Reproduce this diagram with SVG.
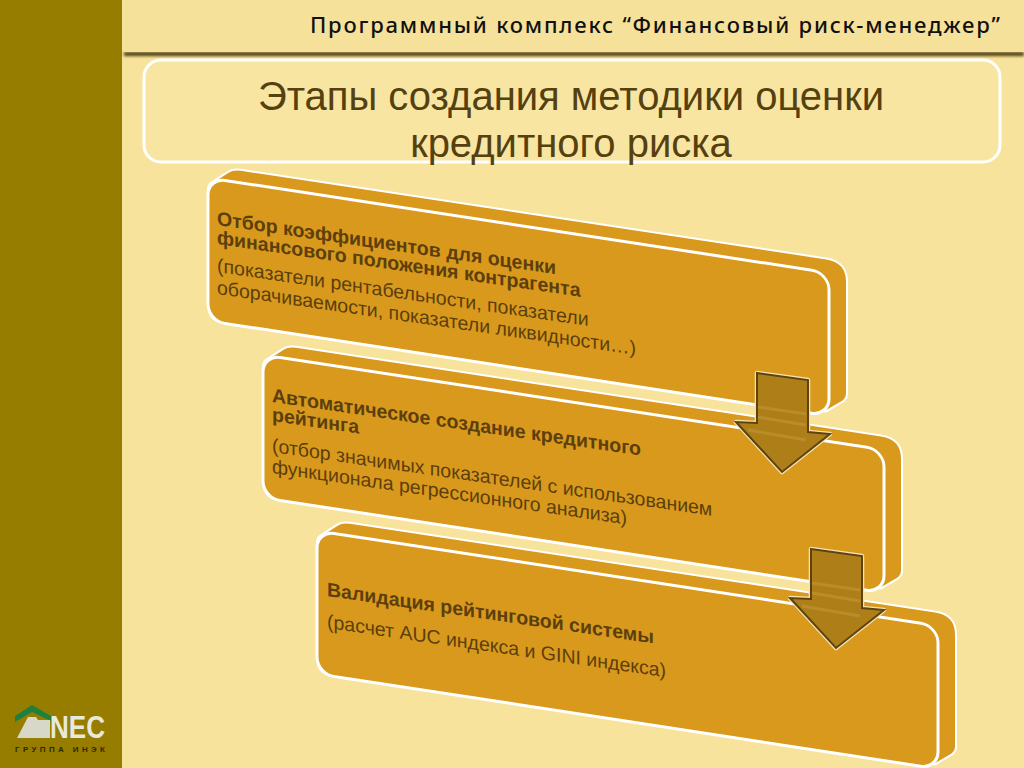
<svg xmlns="http://www.w3.org/2000/svg" width="1024" height="768" viewBox="0 0 1024 768">
<defs>
<style>
.back{fill:#d9991c;stroke:#fff;stroke-width:2}
.front{fill:#d9991c;stroke:#fff;stroke-width:3}
.t{font-family:"Liberation Sans",Arial,sans-serif;font-size:19.5px;fill:#5c3f0c}
.b{font-weight:bold}
.arrow{fill:#ae7f18;stroke:#5c4310;stroke-width:2}
.halo{fill:none;stroke:#f5e2b0;stroke-width:4.5;stroke-linejoin:round}
.streak{fill:none;stroke:#d0a850;stroke-width:3;opacity:.35}
</style>
<g id="stage">
<g transform="matrix(1,.153,0,1,0,0)">
<path class="back" d="M208,158 Q208,152 213,149 L228,137 Q233,133 241,133 L826,132 Q847,132 847,152 L847,264 Q847,270 841,274 L826,285 L224,289 Q208,289 208,272 Z"/>
<rect class="front" x="208" y="146" width="621" height="143" rx="17" ry="17"/>
</g>
</g>
<filter id="sh" x="-5%" y="-50%" width="110%" height="250%"><feGaussianBlur stdDeviation="1.6"/></filter>
</defs>
<rect width="1024" height="768" fill="#f8e39c"/>
<rect id="sidebar" width="122" height="768" fill="#967d00"/>
<g id="header">
<rect x="124" y="52" width="900" height="4" fill="#4a3a10" filter="url(#sh)"/>
<rect x="124" y="0" width="900" height="52" fill="#f6e19a"/>
<text x="310" y="33" font-family="'Noto Sans','Open Sans',sans-serif" font-size="22" font-weight="500" fill="#111" textLength="690" lengthAdjust="spacing">Программный комплекс “Финансовый риск-менеджер”</text>
</g>
<g id="title">
<rect x="144" y="60" width="856" height="102" rx="17" fill="#f8e5a2" stroke="#fff" stroke-width="3"/>
<text x="571" y="110" text-anchor="middle" font-family="'Liberation Sans',Arial,sans-serif" font-size="40" fill="#55400f">Этапы создания методики оценки</text>
<text x="571" y="157" text-anchor="middle" font-family="'Liberation Sans',Arial,sans-serif" font-size="40" fill="#55400f">кредитного риска</text>
</g>
<g id="node-1">
<use href="#stage"/>
<text class="t b" transform="matrix(1,.145,0,1,217,225)"><tspan>Отбор коэффициентов для оценки</tspan><tspan x="0" dy="19">финансового положения контрагента</tspan></text>
<text class="t" transform="matrix(1,.145,0,1,217,272)"><tspan>(показатели рентабельности, показатели</tspan><tspan x="0" dy="22">оборачиваемости, показатели ликвидности…)</tspan></text>
</g>
<g id="node-2">
<use href="#stage" transform="translate(55,177)"/>
<text class="t b" transform="matrix(1,.145,0,1,272,402)"><tspan>Автоматическое создание кредитного</tspan><tspan x="0" dy="19">рейтинга</tspan></text>
<text class="t" transform="matrix(1,.145,0,1,272,452)"><tspan>(отбор значимых показателей с использованием</tspan><tspan x="0" dy="21">функционала регрессионного анализа)</tspan></text>
</g>
<g id="node-3">
<use href="#stage" transform="translate(109,353)"/>
<text class="t b" transform="matrix(1,.145,0,1,327,596)">Валидация рейтинговой системы</text>
<text class="t" transform="matrix(1,.145,0,1,327,628)">(расчет AUC индекса и GINI индекса)</text>
</g>
<g id="connectors">
<g id="arrow-1">
<path class="halo" d="M757,373 L808,380 L808,432 L830,434 L782,472 L736,422 L757,423 Z"/>
<path class="arrow" d="M757,373 L808,380 L808,432 L830,434 L782,472 L736,422 L757,423 Z"/>
<path class="streak" d="M758,407 L806,414 M758,417 L806,425 M748,430 L806,440"/>
</g>
<g id="arrow-2" transform="translate(54,176)">
<path class="halo" d="M757,373 L808,380 L808,432 L830,434 L782,472 L736,422 L757,423 Z"/>
<path class="arrow" d="M757,373 L808,380 L808,432 L830,434 L782,472 L736,422 L757,423 Z"/>
<path class="streak" d="M758,407 L806,414 M758,417 L806,425 M748,430 L806,440"/>
</g>
</g>
<g id="logo">
<path d="M15,716 L32,705 L51,716 L51,721 L32,712 L15,722 Z" fill="#1f7f3c"/>
<path d="M17,738 L28,717 L36,717 L38,720 L50,720 L50,738 Z" fill="#d8d8c8"/>
<text x="50" y="738" font-family="'Liberation Sans',Arial,sans-serif" font-size="31" font-weight="bold" fill="#e8e8dc" textLength="55" lengthAdjust="spacingAndGlyphs">NEC</text>
<text x="15" y="752" font-family="'Liberation Sans',Arial,sans-serif" font-size="8" font-weight="bold" fill="#2e2800" textLength="90">ГРУППА ИНЭК</text>
</g>
</svg>
